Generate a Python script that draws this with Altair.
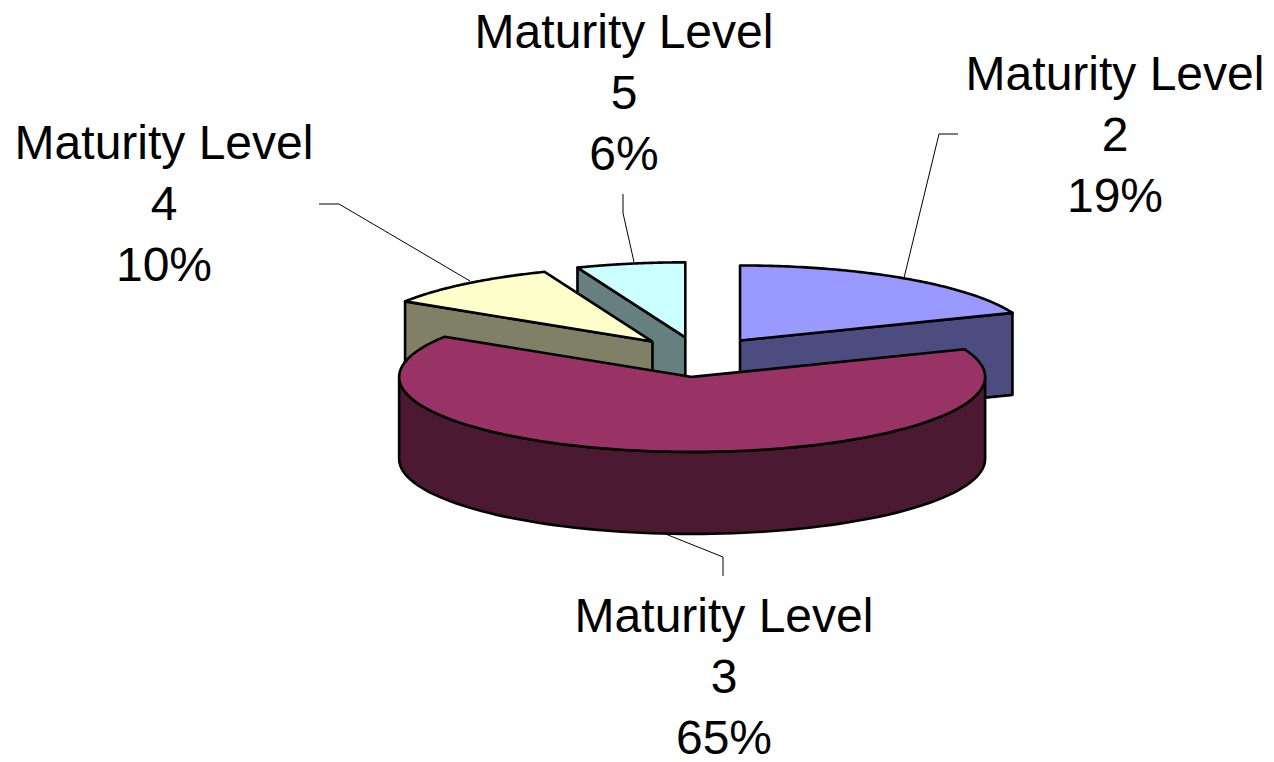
import altair as alt
import pandas as pd
import numpy as np

# ---- data ----
categories = ["Maturity Level 2", "Maturity Level 3", "Maturity Level 4", "Maturity Level 5"]
level_names = ["2", "3", "4", "5"]
values = [19, 65, 10, 6]

# ---- styles ----
top_colors = ["#9999FF", "#993366", "#FFFFCC", "#CCFFFF"]
side_colors = ["#4C4C80", "#4C1933", "#808066", "#668080"]
draw_order = ["Maturity Level 5", "Maturity Level 2", "Maturity Level 4", "Maturity Level 3"]

# ---- layout constants (pixel units of the page) ----
CX, CY = 699, 357      # pie centre
RX, RY = 293, 75       # ellipse radii of the tilted pie
DEPTH = 82             # thickness of the pie
EXP_X, EXP_Y = 73, 20  # explosion distance
N = 90                 # rim resolution
FONT = "Liberation Sans"

label_x = [1115, 724, 164, 624]
label_y = [90, 632, 159, 48]
leader_x = [[904, 939, 958], [663, 723, 723], [470, 339, 319], [634, 623, 623]]
leader_y = [[278, 134, 134], [533, 557, 576], [281, 204, 204], [262, 213, 194]]

total = sum(values)
starts = np.cumsum([0] + values[:-1])

# table of polygon vertices (kind / fraction along the slice), geometry computed by Vega
rows = []
for i, (cat, v) in enumerate(zip(categories, values)):
    s = int(starts[i])

    def add(part, seq):
        for k, (kind, frac, bottom) in enumerate(seq):
            rows.append(dict(cat=cat, value=v, start=s, total=total, part=part,
                             pid=f"{cat}|{part}", order=k, kind=kind, frac=frac, bottom=bottom))

    rim = [("rim", j / N, 0) for j in range(N + 1)]
    add("top", [("apex", 0.0, 0)] + rim + [("apex", 0.0, 0)])
    add("wall", rim + [("rim", 1 - j / N, 1) for j in range(N + 1)] + [("rim", 0.0, 0)])
    add("face_start", [("apex", 0.0, 0), ("rim", 0.0, 0), ("rim", 0.0, 1), ("apex", 0.0, 1), ("apex", 0.0, 0)])
    add("face_end", [("apex", 1.0, 0), ("rim", 1.0, 0), ("rim", 1.0, 1), ("apex", 1.0, 1), ("apex", 1.0, 0)])

df = pd.DataFrame(rows)

W, H = 1258, 746
xs = alt.Scale(domain=[8, 8 + W], nice=False, zero=False)
ys = alt.Scale(domain=[8, 8 + H], nice=False, zero=False, reverse=True)

base = alt.Chart(df).transform_calculate(
    sf="datum.start / datum.total",
    ef="(datum.start + datum.value) / datum.total",
).transform_calculate(
    lo="datum.part == 'wall' ? max(datum.sf, 0.25) : datum.sf",
    hi="datum.part == 'wall' ? min(datum.ef, 0.75) : datum.ef",
    mid="PI * (datum.sf + datum.ef)",
).transform_calculate(
    ang="2 * PI * (datum.lo + datum.frac * (datum.hi - datum.lo))",
    ox=f"{CX} + {EXP_X} * sin(datum.mid)",
    oy=f"{CY} - {EXP_Y} * cos(datum.mid)",
    vis=("datum.part == 'top' || (datum.part == 'wall' && datum.hi > datum.lo) || "
         "(datum.part == 'face_start' && sin(2 * PI * datum.sf) < -1e-9) || "
         "(datum.part == 'face_end' && sin(2 * PI * datum.ef) > 1e-9)"),
).transform_calculate(
    px=f"datum.ox + (datum.kind == 'rim' ? {RX} * sin(datum.ang) : 0)",
    py=f"datum.oy - (datum.kind == 'rim' ? {RY} * cos(datum.ang) : 0) + datum.bottom * {DEPTH}",
).transform_filter("datum.vis")

enc = dict(
    x=alt.X("px:Q", scale=xs, axis=None),
    y=alt.Y("py:Q", scale=ys, axis=None),
    detail="pid:N",
    order=alt.Order("order:Q"),
)

layers = []
for cat in draw_order:
    i = categories.index(cat)
    sides = base.transform_filter(
        f"datum.cat == '{cat}' && datum.part != 'top'"
    ).mark_line(fill=side_colors[i], stroke="black", strokeWidth=2.6, strokeJoin="round").encode(**enc)
    top = base.transform_filter(
        f"datum.cat == '{cat}' && datum.part == 'top'"
    ).mark_line(fill=top_colors[i], stroke="black", strokeWidth=2.6, strokeJoin="round").encode(**enc)
    layers += [sides, top]

# leader lines
lead_rows = []
for i, cat in enumerate(categories):
    for k, (lx, ly) in enumerate(zip(leader_x[i], leader_y[i])):
        lead_rows.append(dict(cat=cat, order=k, lx=lx, ly=ly))
lead = alt.Chart(pd.DataFrame(lead_rows)).mark_line(color="black", strokeWidth=1).encode(
    x=alt.X("lx:Q", scale=xs, axis=None),
    y=alt.Y("ly:Q", scale=ys, axis=None),
    detail="cat:N",
    order=alt.Order("order:Q"),
)

# labels
lab_rows = []
for i, cat in enumerate(categories):
    pct = f"{round(values[i] / total * 100)}%"
    lab_rows.append(dict(cat=cat, label=f"Maturity Level\n{level_names[i]}\n{pct}",
                         tx=label_x[i], ty=label_y[i]))
labels = alt.Chart(pd.DataFrame(lab_rows)).mark_text(
    font=FONT, fontSize=48, lineBreak="\n", lineHeight=61,
    align="center", baseline="alphabetic", color="black",
).encode(
    x=alt.X("tx:Q", scale=xs, axis=None),
    y=alt.Y("ty:Q", scale=ys, axis=None),
    text="label:N",
)

chart = alt.layer(lead, *layers, labels).properties(
    width=W, height=H, padding=0, autosize="none"
).configure_view(stroke=None)

chart.save("out.html", embed_options={"renderer": "svg", "actions": False})
